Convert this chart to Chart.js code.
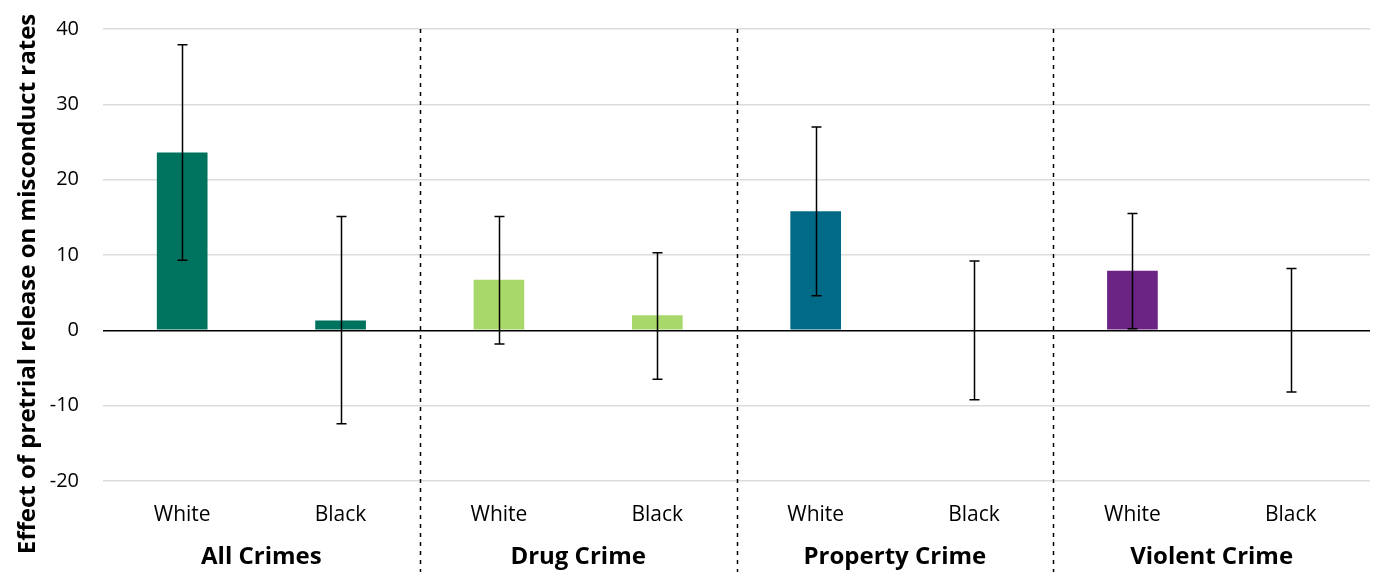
<!DOCTYPE html>
<html>
<head>
<meta charset="utf-8">
<script src="https://cdn.jsdelivr.net/npm/chart.js@4/dist/chart.umd.min.js"></script>
<style>
  html, body { margin: 0; padding: 0; background: #ffffff; }
  #wrap { width: 1376px; height: 572px; }
</style>
</head>
<body>
<div id="wrap"><canvas id="chart" width="1376" height="572"></canvas></div>
<script>
// Crime categories, each split into White / Black defendants
const groups = ['All Crimes', 'Drug Crime', 'Property Crime', 'Violent Crime'];
const races = ['White', 'Black'];

// Point estimates (percentage points), in group order, White then Black
const effects = [23.6, 1.3, 6.7, 2.0, 15.8, 0, 7.9, 0];
// 95% confidence interval bounds
const ciHigh = [37.9, 15.1, 15.1, 10.3, 27.0, 9.2, 15.5, 8.2];
const ciLow  = [9.3, -12.4, -1.8, -6.5, 4.6, -9.2, 0.2, -8.2];

const groupColors = ['#00735F', '#A8D86A', '#006A87', '#6C2484'];
const yTicks = [-20, -10, 0, 10, 20, 30, 40];

const FONT = "'Open Sans', 'DejaVu Sans', sans-serif";

const labels = [];
const barColors = [];
groups.forEach((g, gi) => races.forEach(r => { labels.push(r); barColors.push(groupColors[gi]); }));

// Error bars, group separators, group names and axis title
const annotate = {
  id: 'annotate',
  afterDatasetsDraw(chart) {
    const { ctx, chartArea, scales } = chart;
    const x = scales.x, y = scales.y;
    const cap = 5;

    // confidence intervals
    ctx.save();
    ctx.strokeStyle = '#000';
    ctx.lineWidth = 1.5;
    labels.forEach((_, i) => {
      const cx = Math.round(x.getPixelForValue(i)) + 0.5;
      const yt = y.getPixelForValue(ciHigh[i]);
      const yb = y.getPixelForValue(ciLow[i]);
      ctx.beginPath();
      ctx.moveTo(cx, yt); ctx.lineTo(cx, yb);
      ctx.moveTo(cx - cap, yt); ctx.lineTo(cx + cap, yt);
      ctx.moveTo(cx - cap, yb); ctx.lineTo(cx + cap, yb);
      ctx.stroke();
    });
    ctx.restore();

    // dotted separators between crime groups
    ctx.save();
    ctx.strokeStyle = '#000';
    ctx.lineWidth = 1.5;
    ctx.setLineDash([4, 5]);
    for (let g = 1; g < groups.length; g++) {
      const sx = Math.round((x.getPixelForValue(g * 2 - 1) + x.getPixelForValue(g * 2)) / 2) + 0.5;
      ctx.beginPath();
      ctx.moveTo(sx, chartArea.top);
      ctx.lineTo(sx, chart.height);
      ctx.stroke();
    }
    ctx.restore();

    // group names
    ctx.save();
    ctx.fillStyle = '#000';
    ctx.font = 'bold 24px ' + FONT;
    ctx.textAlign = 'center';
    ctx.textBaseline = 'middle';
    groups.forEach((g, gi) => {
      const gx = (x.getPixelForValue(gi * 2) + x.getPixelForValue(gi * 2 + 1)) / 2;
      ctx.fillText(g, gx, 557);
    });
    ctx.restore();

    // y-axis title
    ctx.save();
    ctx.fillStyle = '#000';
    ctx.font = 'bold 24px ' + FONT;
    ctx.textAlign = 'center';
    ctx.textBaseline = 'middle';
    ctx.translate(28, 284);
    ctx.rotate(-Math.PI / 2);
    ctx.fillText('Effect of pretrial release on misconduct rates', 0, 0);
    ctx.restore();
  }
};

new Chart(document.getElementById('chart'), {
  type: 'bar',
  data: {
    labels: labels,
    datasets: [{
      data: effects,
      backgroundColor: barColors,
      borderWidth: 0,
      categoryPercentage: 1,
      barPercentage: 0.32
    }]
  },
  options: {
    responsive: false,
    animation: false,
    devicePixelRatio: 1,
    layout: { padding: { top: 29, right: 6, left: 0, bottom: 0 } },
    plugins: { legend: { display: false }, tooltip: { enabled: false } },
    scales: {
      x: {
        grid: { display: false, drawTicks: false },
        border: { display: false },
        ticks: { color: '#000', font: { family: FONT, size: 21 }, padding: 21, maxRotation: 0 },
        afterFit(s) { s.height = 91; }
      },
      y: {
        min: yTicks[0],
        max: yTicks[yTicks.length - 1],
        afterBuildTicks(s) { s.ticks = yTicks.map(v => ({ value: v })); },
        grid: {
          drawTicks: false,
          lineWidth: 1.5,
          color: ctx => ctx.tick && ctx.tick.value === 0 ? '#000' : '#dcdcdc'
        },
        border: { display: false },
        ticks: { color: '#000', font: { family: FONT, size: 20 }, padding: 24 },
        afterFit(s) { s.width = 103; s.paddingTop = 0; s.paddingBottom = 0; }
      }
    }
  },
  plugins: [annotate]
});
</script>
</body>
</html>
